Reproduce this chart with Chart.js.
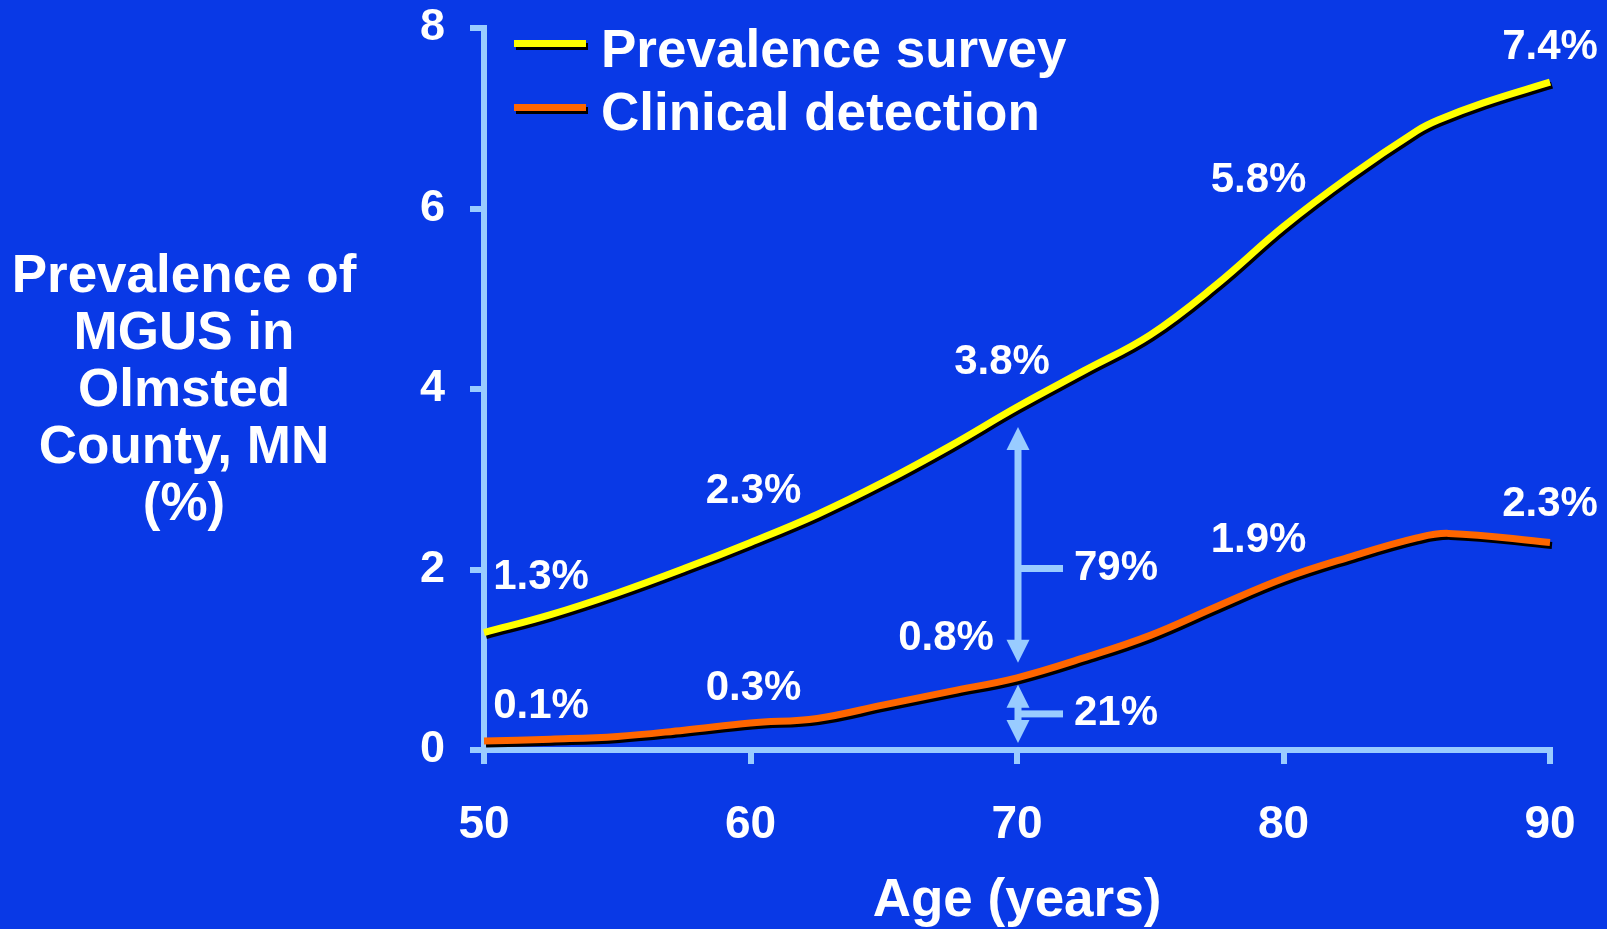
<!DOCTYPE html>
<html>
<head>
<meta charset="utf-8">
<title>Prevalence of MGUS in Olmsted County, MN</title>
<script src="https://cdn.jsdelivr.net/npm/chart.js@4/dist/chart.umd.min.js"></script>
<style>
  html, body { margin: 0; padding: 0; background: #0939E6; overflow: hidden; }
  #wrap { width: 1607px; height: 929px; position: relative; }
  canvas { display: block; }
</style>
</head>
<body>
<div id="wrap"><canvas id="chart" width="1607" height="929"></canvas></div>
<script>
// ---- data ----
const seriesNames = ['Prevalence survey', 'Clinical detection'];

const surveyAges   = [50, 52.5, 55, 57.5, 60, 62.5, 65, 67.5, 70, 72.5, 75, 77.5, 80, 82.5, 85, 85.8, 87.5, 90];
const surveyValues = [1.3, 1.5, 1.74, 2.01, 2.3, 2.61, 2.97, 3.37, 3.8, 4.2, 4.6, 5.16, 5.8, 6.36, 6.86, 6.98, 7.17, 7.4];

const clinicalAges   = [50, 52.5, 55, 57.5, 60, 62.5, 65, 67.5, 70, 72.5, 75, 77.5, 80, 82.5, 85, 86.2, 90];
const clinicalValues = [0.1, 0.12, 0.15, 0.22, 0.3, 0.35, 0.5, 0.65, 0.8, 1.02, 1.27, 1.59, 1.9, 2.14, 2.35, 2.4, 2.3];

const labelledAges = [50, 60, 70, 80, 90];
const gapAge = 70;

const xTicks = [50, 60, 70, 80, 90];
const yTicks = [0, 2, 4, 6, 8];

const yTitleLines = ['Prevalence of', 'MGUS in', 'Olmsted', 'County, MN', '(%)'];
const xTitle = 'Age (years)';

// ---- styling ----
const FONT = '"Liberation Sans", Arial, Helvetica, sans-serif';
const BG = '#0939E6';
const AXIS = '#99CCFF';
const WHITE = '#FFFFFF';
const seriesColors = ['#FFFF00', '#FF6600'];

// label offsets (px) from each labelled point, per series
const labelOffsets = [
  [[57, -59], [3, -54], [-15, -48], [-25, -50], [0, -38]],
  [[57, -38], [3, -38], [-71, -43], [-25, -42], [0, -41]]
];

const toPoints = (xs, ys) => xs.map((x, i) => ({ x: x, y: ys[i] }));

const background = {
  id: 'background',
  beforeDraw(chart) {
    const c = chart.ctx;
    c.save();
    c.fillStyle = BG;
    c.fillRect(0, 0, chart.width, chart.height);
    c.restore();
  }
};

// black drop shadow under each curve
const lineShadow = {
  id: 'lineShadow',
  beforeDatasetDraw(chart) {
    const c = chart.ctx;
    c.save();
    c.shadowColor = '#000000';
    c.shadowOffsetX = 2;
    c.shadowOffsetY = 3;
    c.shadowBlur = 0;
  },
  afterDatasetDraw(chart) {
    chart.ctx.restore();
  }
};

// percentage labels next to the decade points
const pointLabels = {
  id: 'pointLabels',
  afterDatasetsDraw(chart) {
    const c = chart.ctx;
    c.save();
    c.fillStyle = WHITE;
    c.font = 'bold 42px ' + FONT;
    c.textAlign = 'center';
    c.textBaseline = 'alphabetic';
    chart.data.datasets.forEach((ds, di) => {
      const meta = chart.getDatasetMeta(di);
      labelledAges.forEach((age, li) => {
        const idx = ds.data.findIndex(p => p.x === age);
        if (idx < 0) return;
        const el = meta.data[idx];
        const off = labelOffsets[di][li];
        c.fillText(ds.data[idx].y.toFixed(1) + '%', el.x + off[0], el.y + off[1] + 15);
      });
    });
    c.restore();
  }
};

function arrowHead(c, x, tipY, dir, len, half) {
  c.beginPath();
  c.moveTo(x, tipY);
  c.lineTo(x - half, tipY + dir * len);
  c.lineTo(x + half, tipY + dir * len);
  c.closePath();
  c.fill();
}

function gapArrow(c, x, top, bottom, stubFrac, text) {
  const shaft = 7, headLen = 23, headHalf = 11.5, stubLen = 45;
  c.fillStyle = AXIS;
  c.fillRect(x - shaft / 2, top + headLen - 1, shaft, (bottom - top) - 2 * headLen + 2);
  arrowHead(c, x, top, 1, headLen, headHalf);
  arrowHead(c, x, bottom, -1, headLen, headHalf);
  const sy = top + (bottom - top) * stubFrac;
  c.fillRect(x, sy - shaft / 2, stubLen, shaft);
  c.fillStyle = WHITE;
  c.font = 'bold 42px ' + FONT;
  c.textAlign = 'left';
  c.textBaseline = 'alphabetic';
  c.fillText(text, x + 56, sy + 11);
}

// split of survey prevalence at one age: undetected share vs clinically detected share
const gapAnnotation = {
  id: 'gapAnnotation',
  afterDatasetsDraw(chart) {
    const c = chart.ctx;
    const xs = chart.scales.x, ys = chart.scales.y;
    const s = surveyValues[surveyAges.indexOf(gapAge)];
    const k = clinicalValues[clinicalAges.indexOf(gapAge)];
    const x = xs.getPixelForValue(gapAge) + 1;
    const undetected = Math.round((s - k) / s * 100) + '%';
    const detected = Math.round(k / s * 100) + '%';
    c.save();
    gapArrow(c, x, ys.getPixelForValue(s) + 20, ys.getPixelForValue(k) - 15, 0.6, undetected);
    gapArrow(c, x, ys.getPixelForValue(k) + 7, ys.getPixelForValue(0) - 7, 0.5, detected);
    c.restore();
  }
};

// legend in the upper left of the plot and the stacked y-axis title
const sideText = {
  id: 'sideText',
  afterDraw(chart) {
    const c = chart.ctx;
    c.save();
    chart.data.datasets.forEach((ds, i) => {
      const ly = 43.5 + i * 64;
      c.save();
      c.shadowColor = '#000000';
      c.shadowOffsetX = 2;
      c.shadowOffsetY = 3;
      c.strokeStyle = ds.borderColor;
      c.lineWidth = 7;
      c.beginPath();
      c.moveTo(514, ly);
      c.lineTo(586, ly);
      c.stroke();
      c.restore();
      c.fillStyle = WHITE;
      c.font = 'bold 53px ' + FONT;
      c.textAlign = 'left';
      c.textBaseline = 'alphabetic';
      c.fillText(ds.label, 601, 67 + i * 63);
    });
    c.fillStyle = WHITE;
    c.font = 'bold 53px ' + FONT;
    c.textAlign = 'center';
    c.textBaseline = 'alphabetic';
    yTitleLines.forEach((t, i) => c.fillText(t, 184, 292 + i * 57));
    c.restore();
  }
};

new Chart(document.getElementById('chart'), {
  type: 'line',
  data: {
    datasets: [
      {
        label: seriesNames[0],
        data: toPoints(surveyAges, surveyValues),
        borderColor: seriesColors[0],
        borderWidth: 7,
        pointRadius: 0,
        tension: 0.4,
        fill: false,
        clip: false
      },
      {
        label: seriesNames[1],
        data: toPoints(clinicalAges, clinicalValues),
        borderColor: seriesColors[1],
        borderWidth: 7,
        pointRadius: 0,
        tension: 0.4,
        fill: false,
        clip: false
      }
    ]
  },
  options: {
    responsive: false,
    devicePixelRatio: 1,
    animation: false,
    events: [],
    layout: { padding: { top: 28, right: 57, bottom: 0, left: 0 } },
    plugins: {
      legend: { display: false },
      tooltip: { enabled: false },
      title: { display: false }
    },
    scales: {
      x: {
        type: 'linear',
        min: 50,
        max: 90,
        afterBuildTicks: s => { s.ticks = xTicks.map(v => ({ value: v })); },
        afterFit: s => { s.height = 179; s.paddingLeft = 0; s.paddingRight = 0; },
        ticks: {
          color: WHITE,
          font: { family: FONT, size: 46, weight: 'bold' },
          padding: 34,
          maxRotation: 0,
          autoSkip: false
        },
        grid: {
          display: true,
          drawOnChartArea: false,
          drawTicks: true,
          tickLength: 14,
          color: AXIS,
          lineWidth: 6
        },
        border: { display: true, color: AXIS, width: 6 },
        title: {
          display: true,
          text: xTitle,
          color: WHITE,
          font: { family: FONT, size: 53, weight: 'bold', lineHeight: 1 },
          padding: { top: 0, bottom: 1 }
        }
      },
      y: {
        type: 'linear',
        min: 0,
        max: 8,
        afterBuildTicks: s => { s.ticks = yTicks.map(v => ({ value: v })); },
        afterFit: s => { s.width = 484; s.paddingTop = 0; s.paddingBottom = 0; },
        ticks: {
          color: WHITE,
          font: { family: FONT, size: 45, weight: 'bold' },
          padding: 25
        },
        grid: {
          display: true,
          drawOnChartArea: false,
          drawTicks: true,
          tickLength: 14,
          color: AXIS,
          lineWidth: 6
        },
        border: { display: true, color: AXIS, width: 6 }
      }
    }
  },
  plugins: [background, lineShadow, pointLabels, gapAnnotation, sideText]
});
</script>
</body>
</html>
